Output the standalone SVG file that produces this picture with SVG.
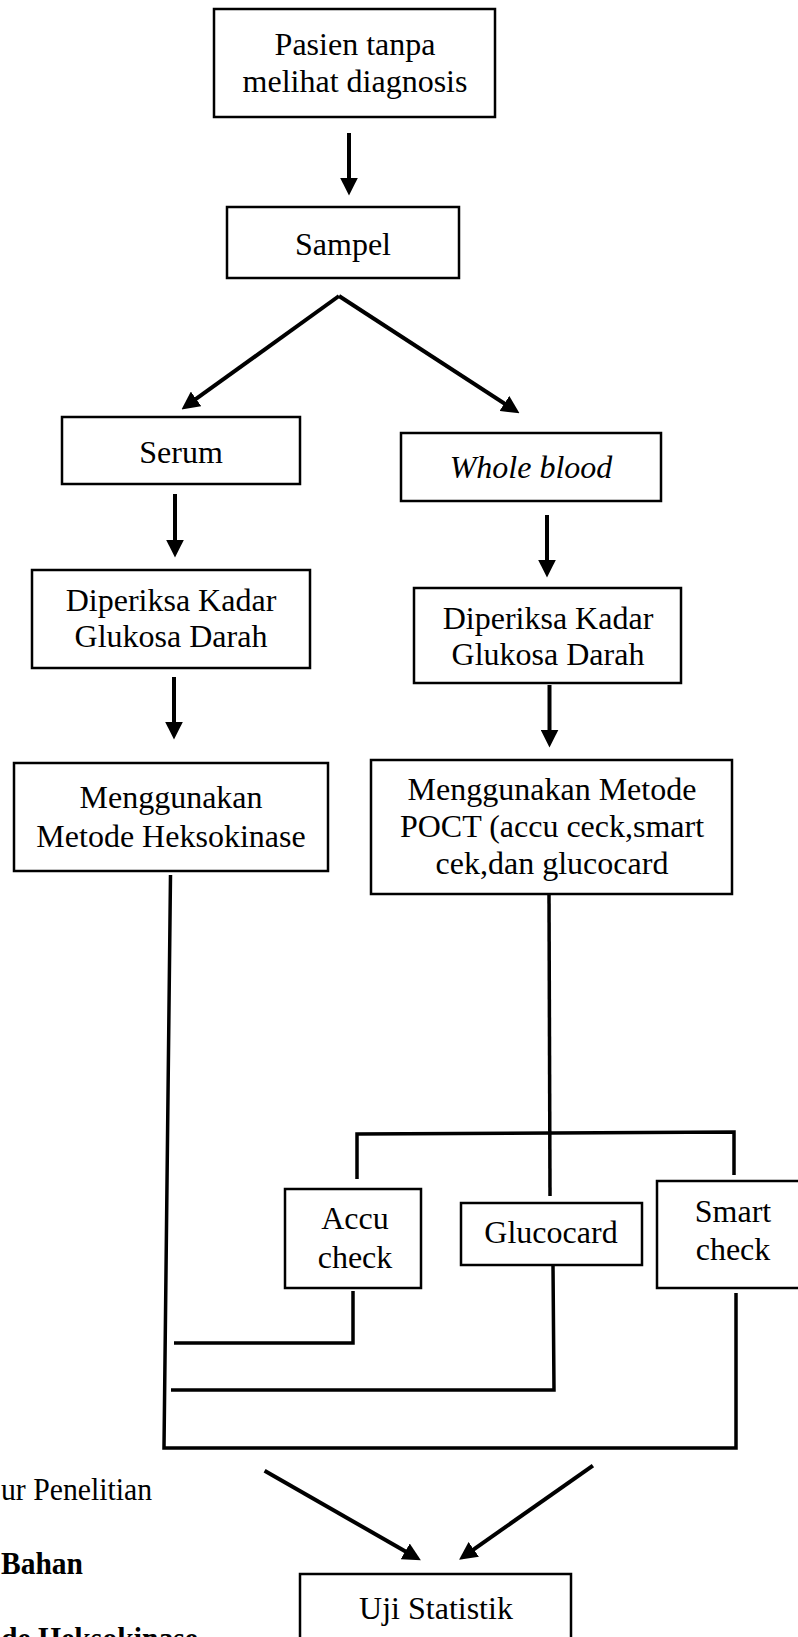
<svg xmlns="http://www.w3.org/2000/svg" width="798" height="1637" viewBox="0 0 798 1637">
<style>
.box{fill:#fff;stroke:#000;stroke-width:2.5}
.t{font-family:"Liberation Serif","Times New Roman",serif;font-size:32px;fill:#000;text-anchor:middle}
.it{font-style:italic}
.b{font-weight:bold}
.s{text-anchor:start}
.arr{fill:none;stroke:#000;stroke-width:4;marker-end:url(#ah)}
.ln{fill:none;stroke:#000;stroke-width:3.5;stroke-linejoin:miter}
</style>
<defs>
<marker id="ah" markerUnits="userSpaceOnUse" markerWidth="18" markerHeight="18" viewBox="0 0 17 17" refX="7" refY="8.5" orient="auto">
<path d="M0,0 L17,8.5 L0,17 z" fill="#000"/>
</marker>
</defs>
<rect width="798" height="1637" fill="#fff"/>
<g id="connectors">
<line class="arr" x1="349" y1="133" x2="349" y2="185"/>
<line class="arr" x1="339" y1="296" x2="190.1" y2="403.2"/>
<line class="arr" x1="339" y1="296" x2="510.6" y2="407.5"/>
<line class="arr" x1="175" y1="494" x2="175" y2="547"/>
<line class="arr" x1="547" y1="515" x2="547" y2="567"/>
<line class="arr" x1="174" y1="677" x2="174" y2="729"/>
<line class="arr" x1="549.5" y1="685" x2="549.5" y2="737"/>
<path class="ln" d="M170.5,875 L164,1448 L736,1448 L736,1293"/>
<path class="ln" d="M549,894 L550,1196"/>
<path class="ln" d="M357,1179 L357,1134 L734,1132 L734,1175"/>
<path class="ln" d="M353,1291 L353,1343 L174,1343"/>
<path class="ln" d="M553,1265 L554,1390 L171,1390"/>
<line class="arr" x1="264.6" y1="1470.7" x2="411.7" y2="1555"/>
<line class="arr" x1="592.9" y1="1465.7" x2="467.7" y2="1553.6"/>
</g>
<g id="pasien">
<rect class="box" x="214" y="9" width="281" height="108"/>
<text class="t" x="355" y="55">Pasien tanpa</text>
<text class="t" x="355" y="92">melihat diagnosis</text>
</g>
<g id="sampel">
<rect class="box" x="227" y="207" width="232" height="71"/>
<text class="t" x="343" y="255">Sampel</text>
</g>
<g id="serum">
<rect class="box" x="62" y="417" width="238" height="67"/>
<text class="t" x="181" y="463">Serum</text>
</g>
<g id="wholeblood">
<rect class="box" x="401" y="433" width="260" height="68"/>
<text class="t it" x="531" y="478">Whole blood</text>
</g>
<g id="diperiksa-left">
<rect class="box" x="32" y="570" width="278" height="98"/>
<text class="t" x="171" y="611">Diperiksa Kadar</text>
<text class="t" x="171" y="647">Glukosa Darah</text>
</g>
<g id="diperiksa-right">
<rect class="box" x="414" y="588" width="267" height="95"/>
<text class="t" x="548" y="629">Diperiksa Kadar</text>
<text class="t" x="548" y="665">Glukosa Darah</text>
</g>
<g id="heksokinase">
<rect class="box" x="14" y="763" width="314" height="108"/>
<text class="t" x="171" y="808">Menggunakan</text>
<text class="t" x="171" y="847">Metode Heksokinase</text>
</g>
<g id="poct">
<rect class="box" x="371" y="760" width="361" height="134"/>
<text class="t" x="552" y="800">Menggunakan Metode</text>
<text class="t" x="552" y="837">POCT (accu ceck,smart</text>
<text class="t" x="552" y="874">cek,dan glucocard</text>
</g>
<g id="accu">
<rect class="box" x="285" y="1189" width="136" height="99"/>
<text class="t" x="355" y="1229">Accu</text>
<text class="t" x="355" y="1268">check</text>
</g>
<g id="glucocard">
<rect class="box" x="461" y="1203" width="181" height="62"/>
<text class="t" x="551" y="1243">Glucocard</text>
</g>
<g id="smart">
<rect class="box" x="657" y="1181" width="160" height="107"/>
<text class="t" x="733" y="1222">Smart</text>
<text class="t" x="733" y="1260">check</text>
</g>
<g id="uji">
<rect class="box" x="300" y="1574" width="271" height="100"/>
<text class="t" x="436" y="1619">Uji Statistik</text>
</g>
<g id="page-text">
<text class="t s" x="1" y="1500" textLength="151" lengthAdjust="spacingAndGlyphs">ur Penelitian</text>
<text class="t b s" x="1" y="1574" textLength="82" lengthAdjust="spacingAndGlyphs">Bahan</text>
<text class="t b s" x="1" y="1649" textLength="197" lengthAdjust="spacingAndGlyphs">de Heksokinase</text>
</g>
</svg>
